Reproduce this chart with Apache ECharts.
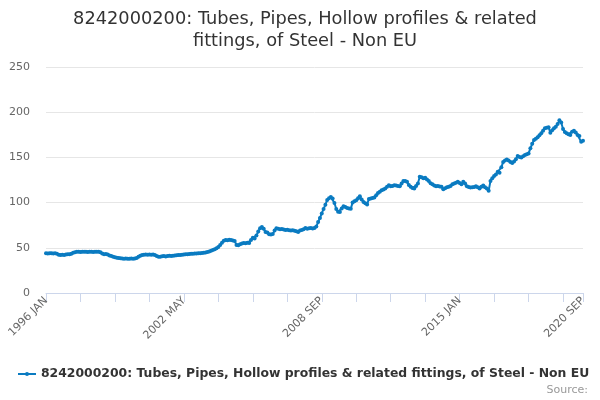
<!DOCTYPE html>
<html>
<head>
<meta charset="utf-8">
<script src="https://cdn.jsdelivr.net/npm/echarts@6/dist/echarts.min.js"></script>
<style>
    html, body { margin: 0; padding: 0; background: #fff; }
    #chart { width: 600px; height: 400px; }
</style>
</head>
<body>
<div id="chart"></div>
<script>
// 数据
var seriesName = '8242000200: Tubes, Pipes, Hollow profiles & related fittings, of Steel - Non EU';
var monthNames = ['JAN', 'FEB', 'MAR', 'APR', 'MAY', 'JUN', 'JUL', 'AUG', 'SEP', 'OCT', 'NOV', 'DEC'];
var firstYear = 1996;
var yTicks = [0, 50, 100, 150, 200, 250];

// 1996 JAN .. 2020 SEP, one row per year
var values = [
    44.0, 43.8, 43.9, 44.1, 43.7, 43.9, 43.5, 42.3, 42.1, 42.4, 42.0, 42.6,
    42.8, 43.0, 43.4, 44.5, 45.2, 45.5, 45.6, 45.4, 45.5, 45.7, 45.6, 45.3,
    45.5, 45.6, 45.4, 45.5, 45.7, 45.6, 45.2, 43.8, 43.0, 43.2, 42.5, 41.6,
    41.0, 40.2, 39.5, 39.0, 38.6, 38.4, 38.2, 38.0, 38.1, 37.9, 38.0, 38.2,
    38.0, 38.3, 38.6, 40.0, 41.2, 42.0, 42.3, 42.5, 42.4, 42.6, 42.3, 42.5,
    42.1, 41.0, 40.2, 40.0, 40.6, 40.8, 40.5, 40.9, 41.2, 41.0, 41.3, 41.6,
    41.8, 42.0, 42.1, 42.3, 42.6, 42.8, 43.0, 43.2, 43.3, 43.4, 43.6, 43.7,
    43.9, 44.0, 44.2, 44.5, 44.8, 45.3, 46.0, 46.8, 47.5, 48.4, 49.6, 51.0,
    53.0, 55.5, 57.8, 58.6, 58.4, 58.8, 58.5, 58.2, 57.6, 53.0, 52.8, 54.0,
    54.8, 55.3, 55.0, 55.6, 55.2, 58.5, 61.0, 60.2, 63.5, 68.0, 71.5, 73.0,
    71.0, 67.5, 66.8, 65.0, 64.6, 65.4, 69.0, 71.5, 71.0, 70.4, 70.8, 70.2,
    69.7, 70.1, 69.5, 69.0, 69.4, 68.8, 68.3, 67.6, 69.0, 69.6, 70.5, 71.8,
    71.2, 71.5, 72.0, 71.4, 71.8, 73.5, 78.5, 83.0, 88.0, 93.0, 97.5, 103.0,
    104.8, 106.3, 104.5, 99.5, 93.0, 90.0, 89.6, 93.5, 96.0, 95.2, 94.0, 93.5,
    93.3, 100.0, 101.5, 102.6, 104.8, 107.0, 103.5, 100.7, 99.2, 98.0, 104.0, 104.6,
    105.2, 105.6, 108.0, 110.7, 112.0, 113.7, 114.5, 115.6, 117.5, 119.3, 118.0, 118.5,
    119.2, 119.0, 118.3, 118.0, 121.0, 124.0, 123.8, 123.0, 119.5, 117.4, 116.2, 115.6,
    118.5, 121.0, 128.5, 128.0, 127.0, 127.4, 125.5, 124.0, 121.5, 120.4, 119.0, 118.0,
    118.4, 117.8, 117.4, 114.8, 115.8, 117.0, 117.6, 118.5, 120.4, 121.0, 122.0, 123.0,
    121.6, 120.4, 123.0, 121.0, 118.0, 117.2, 116.7, 116.9, 117.3, 118.0, 117.0, 115.6,
    117.5, 119.0, 117.0, 115.6, 113.0, 124.0, 127.0, 129.3, 131.0, 134.0, 133.0, 139.0,
    145.0, 146.5, 147.8, 146.5, 145.0, 143.8, 145.5, 148.0, 151.5, 150.5, 150.0, 151.2,
    152.6, 153.5, 154.4, 160.0, 165.0, 169.3, 170.5, 172.2, 174.5, 176.7, 179.5, 182.2,
    182.8, 183.3, 177.4, 180.0, 182.2, 184.0, 187.0, 191.0, 188.5, 181.5, 178.0, 176.7,
    175.5, 174.8, 178.5, 179.6, 177.5, 174.8, 173.7, 167.4, 168.5
];

// 月份类目
var categories = [];
for (var i = 0; i < values.length; i++) {
    categories.push((firstYear + Math.floor(i / 12)) + ' ' + monthNames[i % 12]);
}
var lastIndex = values.length - 1;

var myChart = echarts.init(document.getElementById('chart'));

var option = {
    animation: false,
    textStyle: {fontFamily: 'DejaVu Sans'},
    title: {
        text: '8242000200: Tubes, Pipes, Hollow profiles & related\nfittings, of Steel - Non EU',
        left: 300,
        top: 3,
        textAlign: 'center',
        textStyle: {
            fontFamily: 'DejaVu Sans',
            fontSize: 17.8,
            fontWeight: 'normal',
            color: '#333333',
            lineHeight: 22
        }
    },
    legend: {
        left: 12,
        top: 363,
        itemWidth: 18,
        itemHeight: 5,
        itemGap: 4,
        data: [seriesName],
        textStyle: {
            fontFamily: 'DejaVu Sans',
            fontSize: 12.4,
            fontWeight: 'bold',
            color: '#333333'
        }
    },
    graphic: [{
        type: 'text',
        right: 12,
        top: 385,
        style: {
            text: 'Source:',
            fontFamily: 'DejaVu Sans',
            fontSize: 11,
            fill: '#999999'
        }
    }],
    grid: {
        left: 46,
        right: 17,
        top: 67,
        bottom: 107
    },
    xAxis: {
        type: 'category',
        data: categories,
        boundaryGap: false,
        axisLine: {lineStyle: {color: '#ccd6eb'}},
        axisTick: {
            length: 9,
            lineStyle: {color: '#ccd6eb'},
            interval: function (index) {
                return index % 19 === 0 || index === lastIndex;
            }
        },
        axisLabel: {
            rotate: 45,
            margin: 6,
            fontSize: 11,
            color: '#666666',
            interval: function (index) {
                return index % 76 === 0 || index === lastIndex;
            }
        }
    },
    yAxis: {
        type: 'value',
        min: yTicks[0],
        max: yTicks[yTicks.length - 1],
        interval: 50,
        axisLine: {show: false},
        axisTick: {show: false},
        axisLabel: {
            margin: 16,
            fontSize: 11,
            color: '#666666'
        },
        splitLine: {lineStyle: {color: '#e6e6e6'}}
    },
    series: [{
        name: seriesName,
        type: 'line',
        data: values,
        symbol: 'circle',
        symbolSize: 4,
        showAllSymbol: true,
        color: '#0a7bc1',
        lineStyle: {width: 2, color: '#0a7bc1'},
        itemStyle: {color: '#0a7bc1'}
    }]
};

myChart.setOption(option);
</script>
</body>
</html>
